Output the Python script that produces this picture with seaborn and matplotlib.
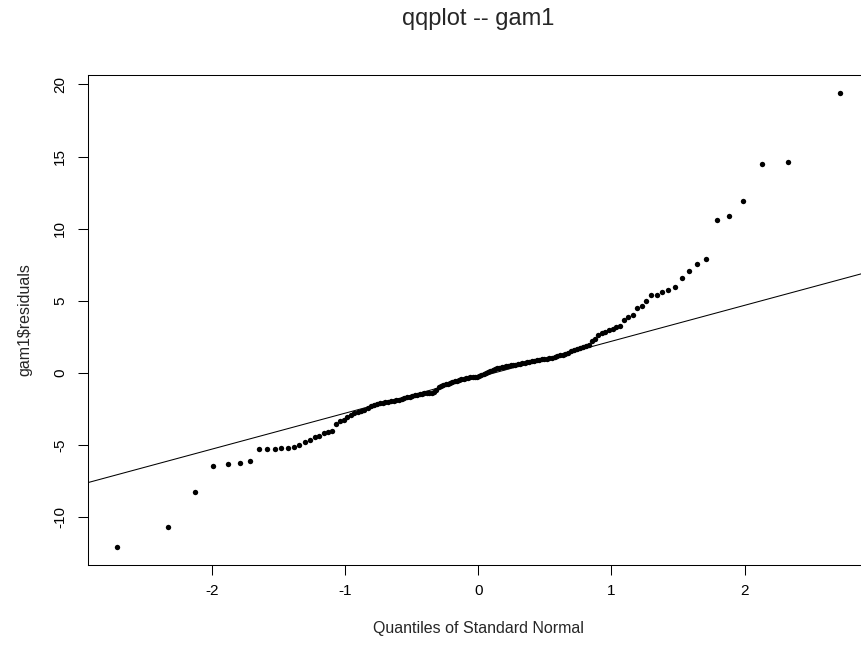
import numpy as np
import pandas as pd
import seaborn as sns
import matplotlib
matplotlib.use("Agg")
import matplotlib.pyplot as plt
from statistics import NormalDist

# Sorted residuals of gam1
residuals = [
    -12.06, -10.67, -8.24, -6.44, -6.30, -6.23, -6.11, -5.26, -5.26, -5.25,
    -5.21, -5.20, -5.14, -5.00, -4.79, -4.65, -4.47, -4.38, -4.19, -4.07,
    -4.05, -3.54, -3.36, -3.23, -3.09, -2.93, -2.81, -2.74, -2.66, -2.58,
    -2.46, -2.30, -2.19, -2.15, -2.11, -2.07, -2.02, -1.99, -1.96, -1.92,
    -1.89, -1.85, -1.81, -1.76, -1.70, -1.64, -1.59, -1.55, -1.51, -1.47,
    -1.44, -1.42, -1.40, -1.38, -1.36, -1.30, -1.15, -1.00, -0.92, -0.86,
    -0.79, -0.74, -0.69, -0.63, -0.58, -0.53, -0.48, -0.43, -0.39, -0.35,
    -0.32, -0.30, -0.28, -0.27, -0.25, -0.22, -0.15, -0.07, 0.01, 0.08,
    0.15, 0.21, 0.27, 0.31, 0.35, 0.39, 0.43, 0.46, 0.49, 0.52,
    0.55, 0.58, 0.61, 0.64, 0.68, 0.71, 0.75, 0.78, 0.82, 0.86,
    0.89, 0.92, 0.95, 0.98, 1.00, 1.03, 1.06, 1.11, 1.16, 1.21,
    1.27, 1.33, 1.40, 1.50, 1.60, 1.66, 1.71, 1.77, 1.85, 1.95,
    2.18, 2.33, 2.66, 2.80, 2.87, 3.01, 3.08, 3.15, 3.22, 3.70,
    3.91, 4.05, 4.53, 4.67, 5.02, 5.37, 5.38, 5.58, 5.78, 5.93,
    6.55, 7.10, 7.52, 7.87, 10.58, 10.90, 11.90, 14.47, 14.60, 19.40,
]

x_ticks = [-2, -1, 0, 1, 2]
x_tick_labels = ["-2", "-1", "0", "1", "2"]
y_ticks = [-10, -5, 0, 5, 10, 15, 20]
y_tick_labels = ["-10", "-5", "0", "5", "10", "15", "20"]

title_text = "qqplot -- gam1"
x_label = "Quantiles of Standard Normal"
y_label = "gam1$residuals"

# Theoretical normal quantiles (ppoints, as qqnorm does)
n = len(residuals)
nd = NormalDist()
theo = [nd.inv_cdf((i + 0.5) / n) for i in range(n)]
df = pd.DataFrame({"theoretical": theo, "residual": residuals})

# qqline through quartiles
q1, q3 = np.quantile(residuals, [0.25, 0.75])
z1, z3 = nd.inv_cdf(0.25), nd.inv_cdf(0.75)
slope = (q3 - q1) / (z3 - z1)
intercept = q1 - slope * z1

sns.set_style("white")
plt.rcParams["font.family"] = ["Liberation Sans", "DejaVu Sans"]

W, H = 861, 646
fig = plt.figure(figsize=(W / 100, H / 100), dpi=100)
left_px, right_px, top_px, bottom_px = 87.7, 868.6, 75, 565
ax = fig.add_axes([left_px / W, (H - bottom_px) / H,
                   (right_px - left_px) / W, (bottom_px - top_px) / H])

sns.scatterplot(data=df, x="theoretical", y="residual", ax=ax,
                color="black", s=15, linewidth=0, edgecolor=None, legend=False)
ax.margins(x=0.04, y=0.04)
ax.autoscale_view()
ax.axline((0, intercept), slope=slope, color="black", linewidth=0.75)

for sp in ax.spines.values():
    sp.set_visible(True)
    sp.set_color("black")
    sp.set_linewidth(0.75)

ax.set_xticks(x_ticks)
ax.set_xticklabels(x_tick_labels)
ax.set_yticks(y_ticks)
ax.set_yticklabels(y_tick_labels, rotation=90, va="center")
ax.tick_params(axis="both", direction="out", length=7.2, width=0.75,
               color="black", labelsize=11, labelcolor="black",
               bottom=True, left=True, top=False, right=False)
ax.tick_params(axis="x", pad=6.5)
ax.tick_params(axis="y", pad=7.5)

ax.set_xlabel(x_label, fontsize=11.5, va="center")
ax.set_ylabel(y_label, fontsize=11.5, va="center")
axw = right_px - left_px
axh = bottom_px - top_px
ax.xaxis.set_label_coords(0.5, (bottom_px - 628) / axh)
ax.yaxis.set_label_coords((25 - left_px) / axw, 0.5)

ax.set_title(title_text, fontsize=17, pad=36)

fig.savefig("out.png", dpi=100)
